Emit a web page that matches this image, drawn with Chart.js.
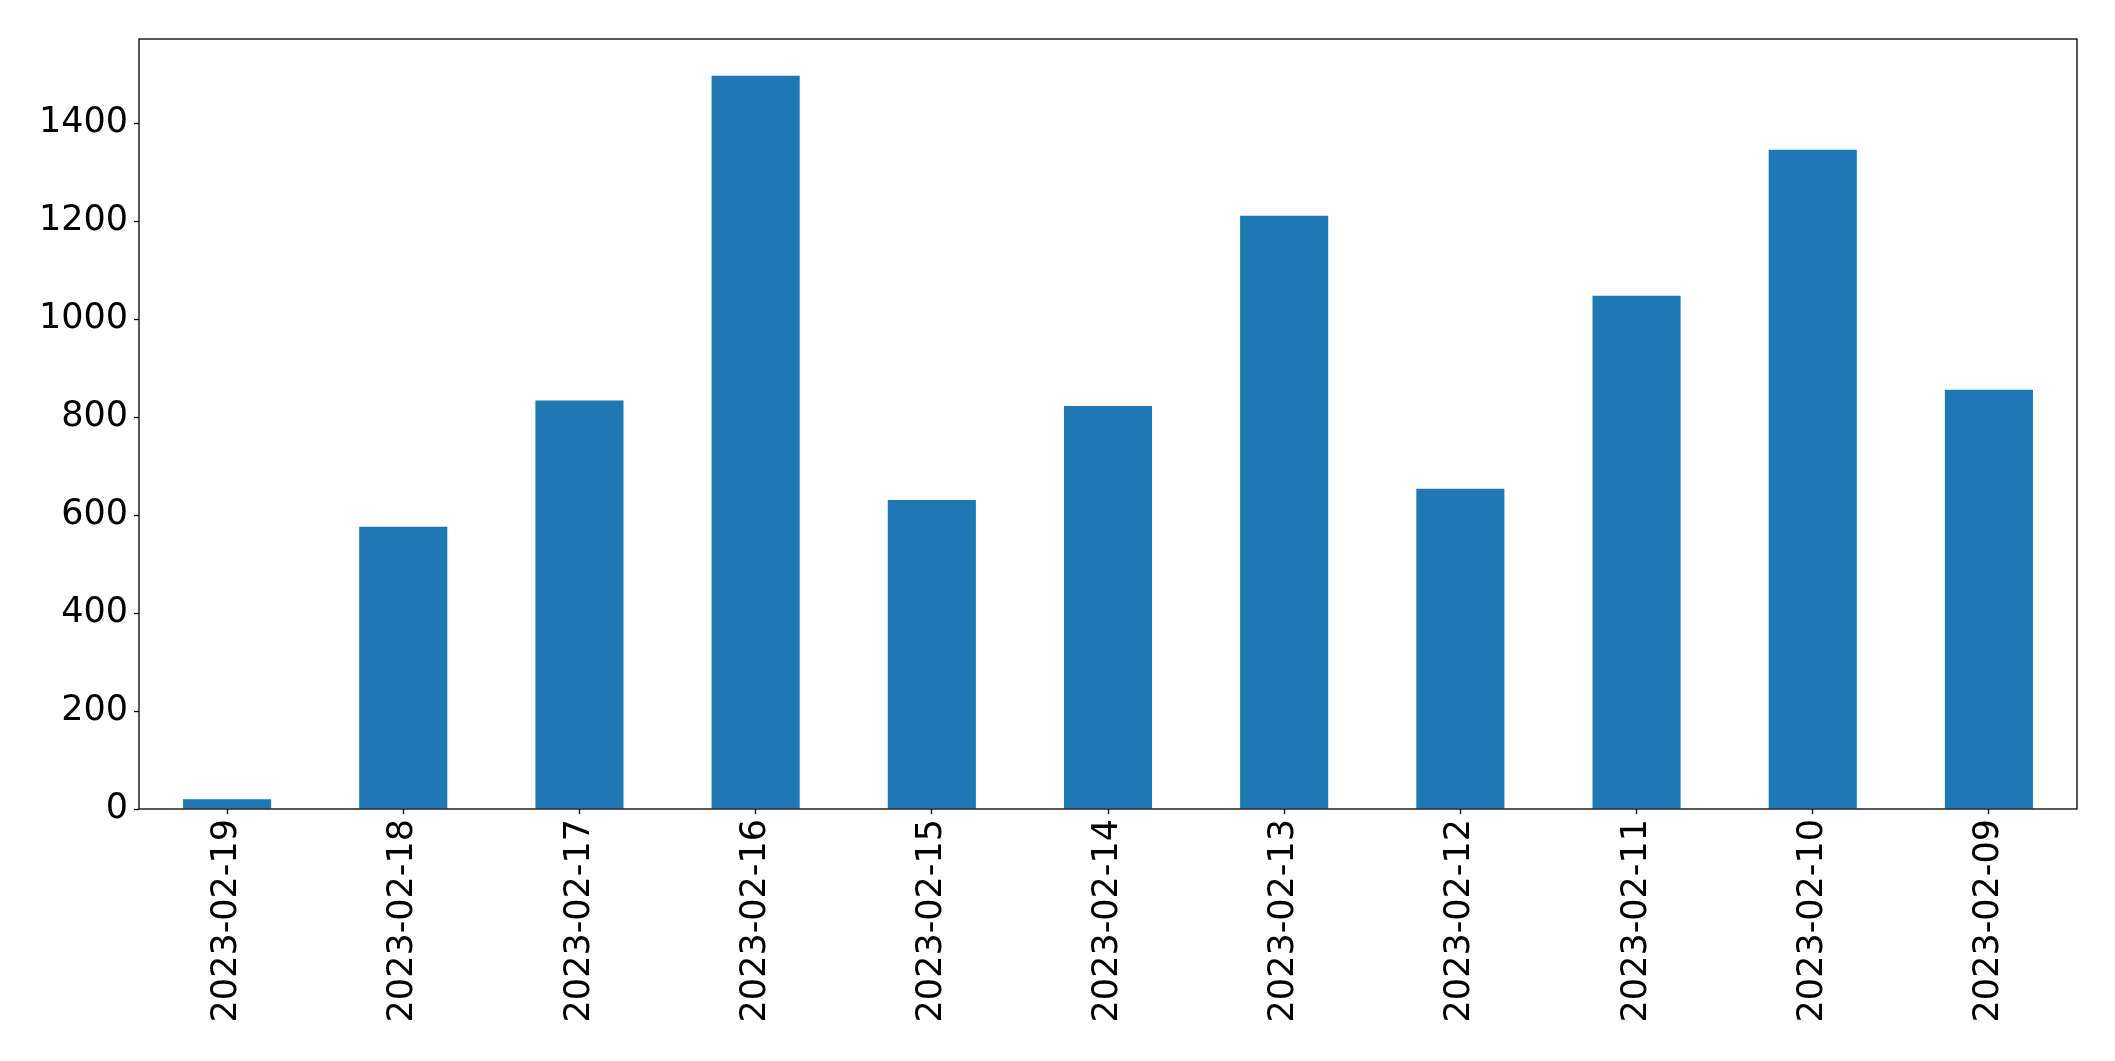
<!DOCTYPE html>
<html>
<head>
<meta charset="utf-8">
<script src="https://cdn.jsdelivr.net/npm/chart.js@4/dist/chart.umd.min.js"></script>
<style>
    html, body { margin: 0; padding: 0; background: #fff; }
    #wrap { width: 2115px; height: 1061px; }
</style>
</head>
<body>
<div id="wrap"><canvas id="barChart"></canvas></div>
<script>
// dates on the x axis, newest first
const dates = ['2023-02-19', '2023-02-18', '2023-02-17', '2023-02-16', '2023-02-15', '2023-02-14',
    '2023-02-13', '2023-02-12', '2023-02-11', '2023-02-10', '2023-02-09'];
const counts = [20, 576, 834, 1497, 631, 823, 1211, 654, 1048, 1346, 856];
const yTicks = [0, 200, 400, 600, 800, 1000, 1200, 1400];
const yMax = 1572;

// box round the plot area, like matplotlib's spines
const frame = {
    id: 'frame',
    afterDraw(chart) {
        const a = chart.chartArea;
        const ctx = chart.ctx;
        ctx.save();
        ctx.strokeStyle = '#000';
        ctx.lineWidth = 1.3;
        ctx.strokeRect(a.left, a.top, a.right - a.left, a.bottom - a.top);
        ctx.restore();
    }
};

document.addEventListener("DOMContentLoaded", function () {
    const ctx = document.getElementById('barChart').getContext('2d');
    new Chart(ctx, {
        type: 'bar',
        data: {
            labels: dates,
            datasets: [{
                data: counts,
                backgroundColor: '#1f77b4',
                borderWidth: 0,
                barPercentage: 0.5,
                categoryPercentage: 1.0
            }]
        },
        options: {
            responsive: true,
            maintainAspectRatio: false,
            animation: false,
            layout: {
                padding: { left: 0, top: 39, right: 38, bottom: 0 }
            },
            plugins: {
                legend: { display: false },
                tooltip: { enabled: false }
            },
            scales: {
                x: {
                    offset: true,
                    grid: {
                        display: true,
                        offset: false,
                        drawOnChartArea: false,
                        tickLength: 5,
                        tickColor: '#000',
                        tickWidth: 1.3
                    },
                    border: { display: false },
                    ticks: {
                        color: '#000',
                        autoSkip: false,
                        minRotation: 90,
                        maxRotation: 90,
                        padding: 5,
                        font: { family: 'DejaVu Sans', size: 35 }
                    },
                    afterFit: function (scale) { scale.height = 252; }
                },
                y: {
                    min: 0,
                    max: yMax,
                    grid: {
                        display: true,
                        drawOnChartArea: false,
                        tickLength: 5,
                        tickColor: '#000',
                        tickWidth: 1.3
                    },
                    border: { display: false },
                    afterBuildTicks: function (scale) {
                        scale.ticks = yTicks.map(v => ({ value: v }));
                    },
                    ticks: {
                        color: '#000',
                        padding: 6,
                        font: { family: 'DejaVu Sans', size: 35 },
                        callback: function (value) {
                            return String(value);
                        }
                    },
                    afterFit: function (scale) { scale.width = 139; }
                }
            }
        },
        plugins: [frame]
    });
});
</script>
</body>
</html>
